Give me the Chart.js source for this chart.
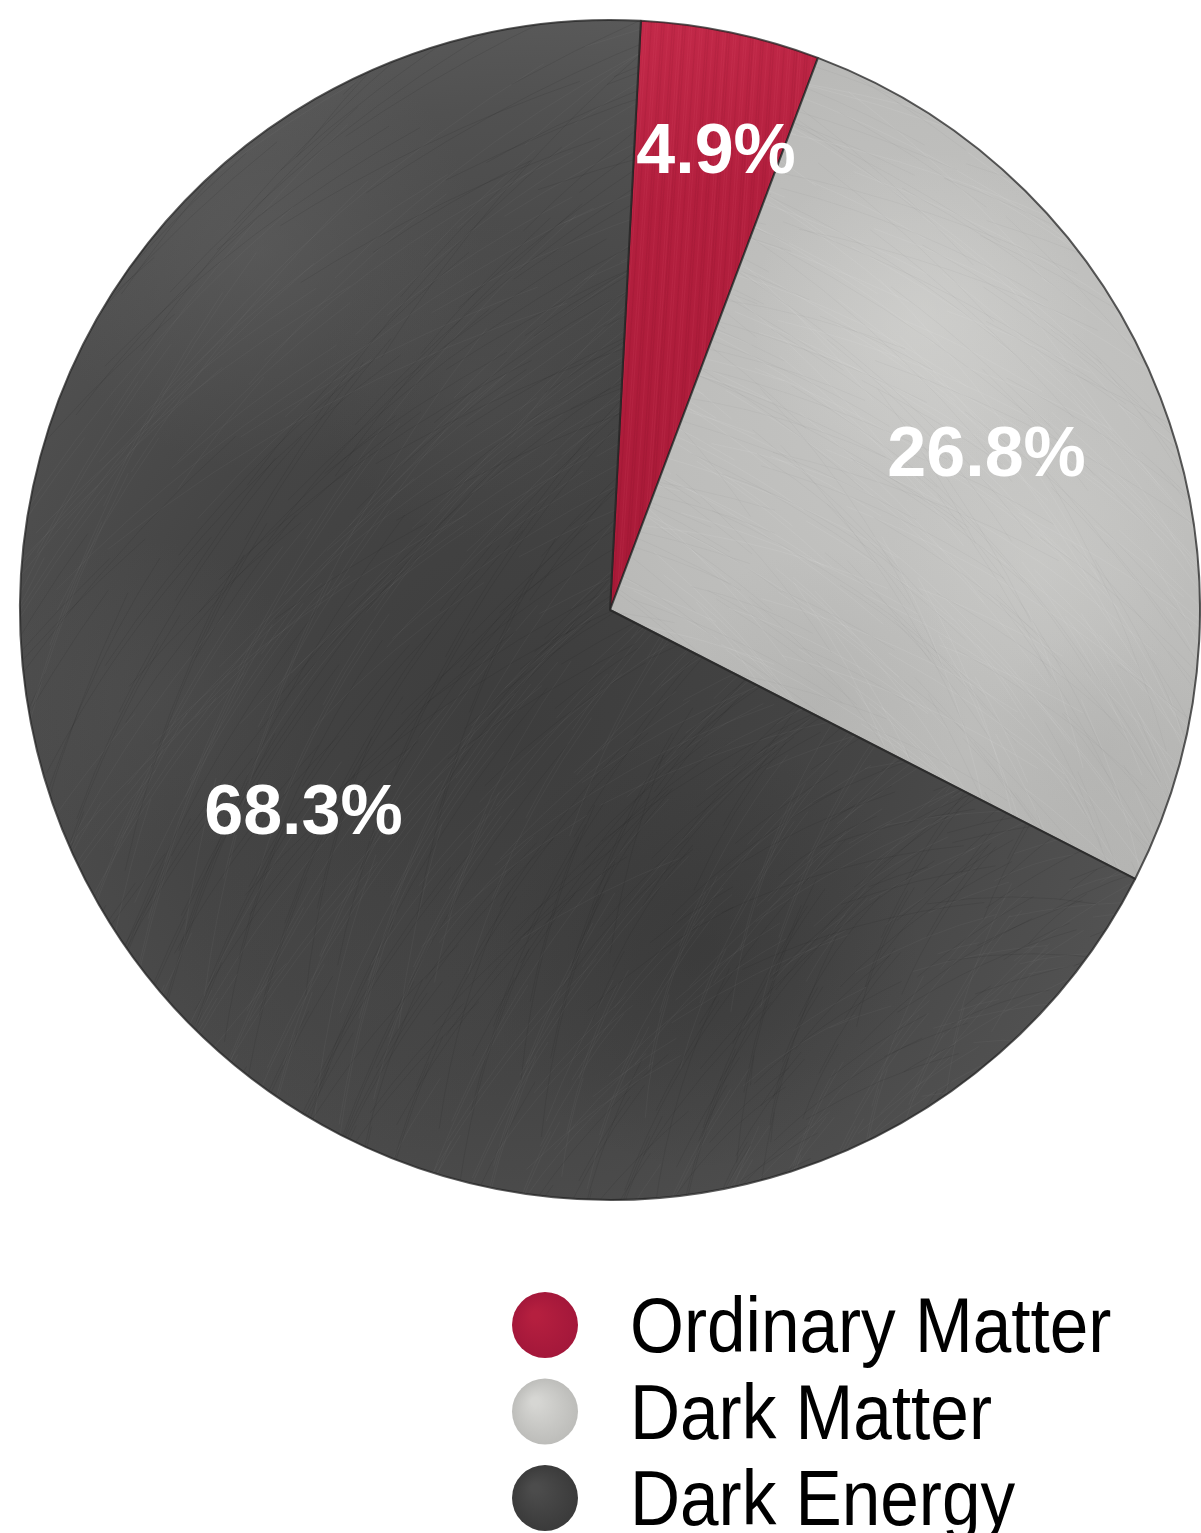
<!DOCTYPE html>
<html>
<head>
<meta charset="utf-8">
<title>Composition of the Universe</title>
<script src="https://cdn.jsdelivr.net/npm/chart.js@4.4.1/dist/chart.umd.min.js"></script>
<style>
  html, body { margin: 0; padding: 0; background: #fff; }
  canvas { display: block; }
</style>
</head>
<body>
<canvas id="pie" width="1201" height="1533"></canvas>
<script>
const labels = ['Ordinary Matter', 'Dark Matter', 'Dark Energy'];
const shares = [4.9, 26.8, 68.3];

const W = 1201, H = 1533;
const FONT = '"Liberation Sans", Arial, Helvetica, sans-serif';

// where each percentage sits: fraction of radius, and a small turn (degrees) off the slice middle
const labelRadius = [0.804, 0.693, 0.619];
const labelTurn = [1.1, -1.8, -3.0];

// brushed-metal style fill: radial base, soft clouds, thin curved streaks
function brushed(stops, cx, cy, clouds, streak) {
  const c = document.createElement('canvas');
  c.width = W; c.height = H;
  const g = c.getContext('2d');
  const base = g.createRadialGradient(cx, cy, 0, cx, cy, 720);
  stops.forEach(([o, col]) => base.addColorStop(o, col));
  g.fillStyle = base;
  g.fillRect(0, 0, W, H);

  clouds.forEach(([x, y, r, rgb, a]) => {
    const rg = g.createRadialGradient(x, y, 0, x, y, r);
    rg.addColorStop(0, `rgba(${rgb},${a})`);
    rg.addColorStop(1, `rgba(${rgb},0)`);
    g.fillStyle = rg;
    g.fillRect(x - r, y - r, r * 2, r * 2);
  });

  g.lineWidth = 1;
  const phi = 0.6180339887;
  for (let i = 0; i < 1400; i++) {
    const u = (i * phi) % 1;
    const v = (i * phi * phi * 3.1) % 1;
    const px = streak.px + (u - 0.5) * 600;
    const py = streak.py + (v - 0.5) * 600;
    const rad = 250 + ((i * 0.377) % 1) * 1300;
    const a0 = streak.a + ((i * 0.219) % 1) * 1.4;
    g.strokeStyle = i % 2 ? streak.light : streak.dark;
    g.beginPath();
    g.arc(px, py, rad, a0, a0 + 0.12 + ((i * 0.713) % 1) * 0.25);
    g.stroke();
  }
  return g.createPattern(c, 'no-repeat');
}

const redFill = (() => {
  const c = document.createElement('canvas');
  c.width = W; c.height = H;
  const g = c.getContext('2d');
  const lg = g.createLinearGradient(650, 0, 790, 560);
  lg.addColorStop(0, '#c42a4a');
  lg.addColorStop(0.35, '#b31f3e');
  lg.addColorStop(1, '#a91a38');
  g.fillStyle = lg;
  g.fillRect(0, 0, W, H);
  g.lineWidth = 1.2;
  for (let i = 0; i < 60; i++) {
    const x = 640 + ((i * 0.618) % 1) * 190;
    g.strokeStyle = i % 2 ? 'rgba(255,120,140,0.08)' : 'rgba(90,0,20,0.08)';
    g.beginPath();
    g.moveTo(x, 0);
    g.lineTo(x - 40, 600);
    g.stroke();
  }
  return g.createPattern(c, 'no-repeat');
})();

const greyFill = brushed(
  [[0, '#c6c6c4'], [0.45, '#bcbcba'], [0.8, '#b0b0ae'], [1, '#a6a6a4']],
  960, 420,
  [[920, 320, 170, '225,225,222', 0.35], [1040, 560, 150, '215,215,212', 0.30],
   [820, 700, 150, '150,150,148', 0.20], [1100, 750, 120, '160,160,158', 0.20]],
  { px: 300, py: 1300, a: -1.55, light: 'rgba(235,235,232,0.10)', dark: 'rgba(110,110,108,0.07)' }
);

const darkFill = brushed(
  [[0, '#3d3d3d'], [0.5, '#454545'], [0.85, '#515151'], [1, '#5a5a5a']],
  520, 720,
  [[260, 250, 220, '110,110,110', 0.30], [480, 380, 160, '100,100,100', 0.20],
   [150, 700, 160, '95,95,95', 0.22], [700, 950, 220, '40,40,40', 0.30],
   [350, 1000, 180, '75,75,75', 0.25]],
  { px: 1300, py: 1400, a: 3.2, light: 'rgba(150,150,150,0.08)', dark: 'rgba(20,20,20,0.10)' }
);

const legendFill = [['#b51f3f', '#a3173a'], ['#d6d6d3', '#bcbcb9'], ['#4c4c4c', '#3a3a3a']];

const sliceText = {
  id: 'sliceText',
  afterDatasetsDraw(chart) {
    const ctx = chart.ctx;
    const arcs = chart.getDatasetMeta(0).data;
    ctx.save();
    ctx.font = 'bold 70px ' + FONT;
    ctx.fillStyle = '#ffffff';
    ctx.textAlign = 'center';
    ctx.textBaseline = 'alphabetic';
    arcs.forEach((arc, i) => {
      const p = arc.getProps(['x', 'y', 'startAngle', 'endAngle', 'outerRadius'], true);
      const mid = (p.startAngle + p.endAngle) / 2 + labelTurn[i] * Math.PI / 180;
      const r = p.outerRadius * labelRadius[i];
      ctx.fillText(shares[i].toFixed(1) + '%', p.x + Math.cos(mid) * r, p.y + Math.sin(mid) * r + 25);
    });
    ctx.restore();
  }
};

const sideLegend = {
  id: 'sideLegend',
  afterDraw(chart) {
    const ctx = chart.ctx;
    ctx.save();
    chart.data.labels.forEach((label, i) => {
      const cy = 1325 + i * 86.5;
      const rg = ctx.createRadialGradient(535, cy - 10, 4, 545, cy, 34);
      rg.addColorStop(0, legendFill[i][0]);
      rg.addColorStop(1, legendFill[i][1]);
      ctx.fillStyle = rg;
      ctx.beginPath();
      ctx.arc(545, cy, 33, 0, Math.PI * 2);
      ctx.fill();

      ctx.save();
      ctx.translate(630, cy + 27);
      ctx.scale(0.9, 1);
      ctx.font = '77px ' + FONT;
      ctx.fillStyle = '#000000';
      ctx.textBaseline = 'alphabetic';
      ctx.fillText(label, 0, 0);
      ctx.restore();
    });
    ctx.restore();
  }
};

new Chart(document.getElementById('pie'), {
  type: 'pie',
  data: {
    labels: labels,
    datasets: [{
      data: shares,
      backgroundColor: [redFill, greyFill, darkFill],
      borderColor: 'rgba(35,35,35,0.75)',
      borderWidth: 2
    }]
  },
  options: {
    responsive: false,
    animation: false,
    rotation: 3,
    layout: { padding: { left: 19, right: 0, top: 19, bottom: 332 } },
    plugins: {
      legend: { display: false },
      tooltip: { enabled: false }
    }
  },
  plugins: [sliceText, sideLegend]
});
</script>
</body>
</html>
